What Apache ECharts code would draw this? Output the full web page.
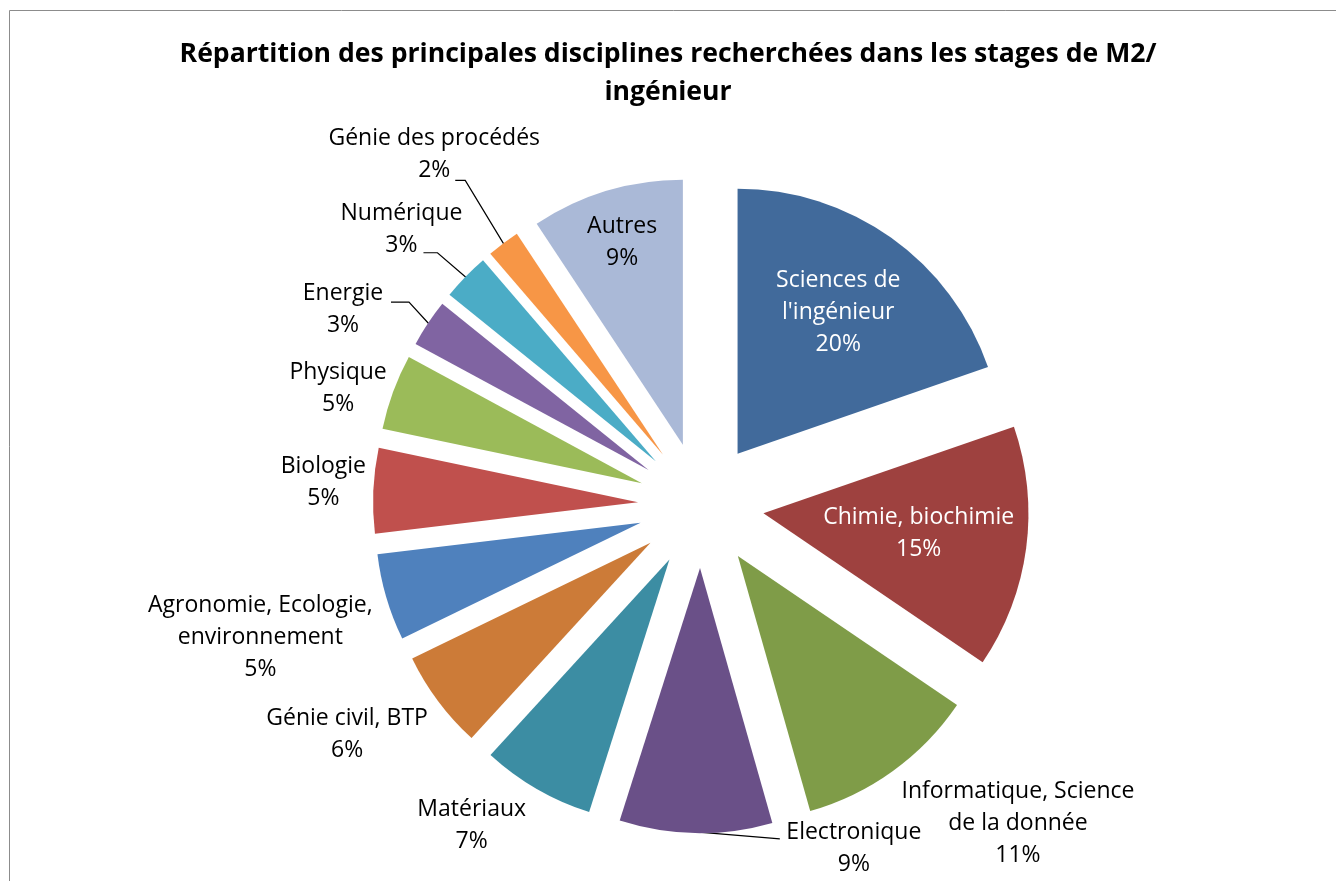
<!DOCTYPE html>
<html><head><meta charset="utf-8">
<script src="https://cdn.jsdelivr.net/npm/echarts@6/dist/echarts.min.js"></script>
<style>html,body{margin:0;padding:0;background:#fff}#c{width:1336px;height:881px}</style>
</head><body><div id="c"></div>
<script>
// ---- data ----
const categories = ["Sciences de l'ingénieur", "Chimie, biochimie", "Informatique, Science de la donnée", "Electronique", "Matériaux", "Génie civil, BTP", "Agronomie, Ecologie, environnement", "Biologie", "Physique", "Energie", "Numérique", "Génie des procédés", "Autres"];
const values = [19.7, 14.8, 11.1, 9.3, 6.9, 6.0, 5.3, 5.2, 4.6, 2.9, 2.9, 2.0, 9.3];
const labelLines = ["Sciences de\nl'ingénieur", "Chimie, biochimie", "Informatique, Science\nde la donnée", "Electronique", "Matériaux", "Génie civil, BTP", "Agronomie, Ecologie,\nenvironnement", "Biologie", "Physique", "Energie", "Numérique", "Génie des procédés", "Autres"];
const titleText = "Répartition des principales disciplines recherchées dans les stages de M2/\ningénieur";

// ---- styles ----
const colors = ["#416A9B", "#9E413F", "#7F9C48", "#6A5088", "#3C8DA3", "#CC7B38", "#4F81BD", "#C0504D", "#9BBB59", "#8064A2", "#4BACC6", "#F79646", "#AAB9D7"];
const labelColors = ["#fff", "#fff", "#000", "#000", "#000", "#000", "#000", "#000", "#000", "#000", "#000", "#000", "#000"];
const CX = 701, CY = 505, RADIUS = 265, EXPLODE = 63;
const FONT = "Open Sans";
// label placement: inside -> fraction of radius; outside -> nudge of label centre from slice outer point
const labelPlace = [
  {inside: 0.655}, {inside: 0.591}, {dx: 125, dy: 52}, {dx: 158, dy: 15, line: [[-74, -9]]},
  {dx: -65, dy: 37}, {dx: -91, dy: 33}, {dx: -126, dy: 40}, {dx: -50, dy: -8},
  {dx: -55, dy: -4}, {dx: -85, dy: -14, line: [[66, -7], [48, -7]]},
  {dx: -64, dy: -47, line: [[36, 23], [22, 23]]}, {dx: -69, dy: -89, line: [[31, 26], [21, 26]]},
  {inside: 0.795}
];

const total = values.reduce((a, b) => a + b, 0);
const midAngles = [];
{ let acc = 0; values.forEach(v => { midAngles.push((acc + v / 2) / total * Math.PI * 2); acc += v; }); }
const dirOf = i => [Math.sin(midAngles[i]), -Math.cos(midAngles[i])];

function layoutFor(k) {
  return function (p) {
    const i = p.dataIndex;
    if (i !== k) return {};
    const sp = labelPlace[i];
    const [ux, uy] = dirOf(i);
    let x, y;
    if (sp.inside != null) {
      const d = EXPLODE + sp.inside * RADIUS;
      x = CX + d * ux; y = CY + d * uy;
    } else {
      const d = EXPLODE + RADIUS;
      x = CX + d * ux + sp.dx; y = CY + d * uy + sp.dy;
    }
    const out = {x: x, y: y, align: 'center', verticalAlign: 'middle'};
    if (sp.line) {
      const d = EXPLODE + RADIUS - 1;
      const pts = [[CX + d * ux, CY + d * uy]];
      sp.line.forEach(q => pts.push([x + q[0], y + q[1]]));
      if (pts.length === 2) pts.push(pts[1].slice());
      out.labelLinePoints = pts;
    }
    return out;
  };
}

// each slice is drawn by its own pie (same values, same angles), shifted outward to explode it
const series = categories.map((c, k) => {
  const [ux, uy] = dirOf(k);
  return {
    type: 'pie',
    silent: true,
    center: [CX + EXPLODE * ux, CY + EXPLODE * uy],
    radius: [0, RADIUS],
    startAngle: 90,
    clockwise: true,
    avoidLabelOverlap: false,
    emphasis: {disabled: true},
    itemStyle: {borderWidth: 0},
    label: {
      fontFamily: FONT, fontSize: 23, lineHeight: 32, color: '#000',
      formatter: p => labelLines[p.dataIndex] + '\n' + Math.round(p.percent) + '%'
    },
    labelLine: {show: false, lineStyle: {color: '#000', width: 1.2}},
    labelLayout: layoutFor(k),
    data: categories.map((name, i) => ({
      name: name, value: values[i],
      itemStyle: {color: i === k ? colors[i] : 'rgba(0,0,0,0)'},
      label: {show: i === k, color: labelColors[i], position: labelPlace[i].inside != null ? 'inside' : 'outside'},
      labelLine: {show: i === k && !!labelPlace[i].line}
    }))
  };
});

const chart = echarts.init(document.getElementById('c'), null, {renderer: 'canvas'});
chart.setOption({
  animation: false,
  backgroundColor: '#fff',
  title: {
    text: titleText, left: 'center', top: 30,
    textStyle: {fontFamily: FONT, fontWeight: 'bold', fontSize: 26.6, lineHeight: 38, color: '#000'}
  },
  graphic: [{type: 'rect', shape: {x: 9.5, y: 10.5, width: 1400, height: 1000}, style: {fill: 'none', stroke: '#8c8c8c', lineWidth: 1}, silent: true}],
  series: series
});
</script></body></html>
